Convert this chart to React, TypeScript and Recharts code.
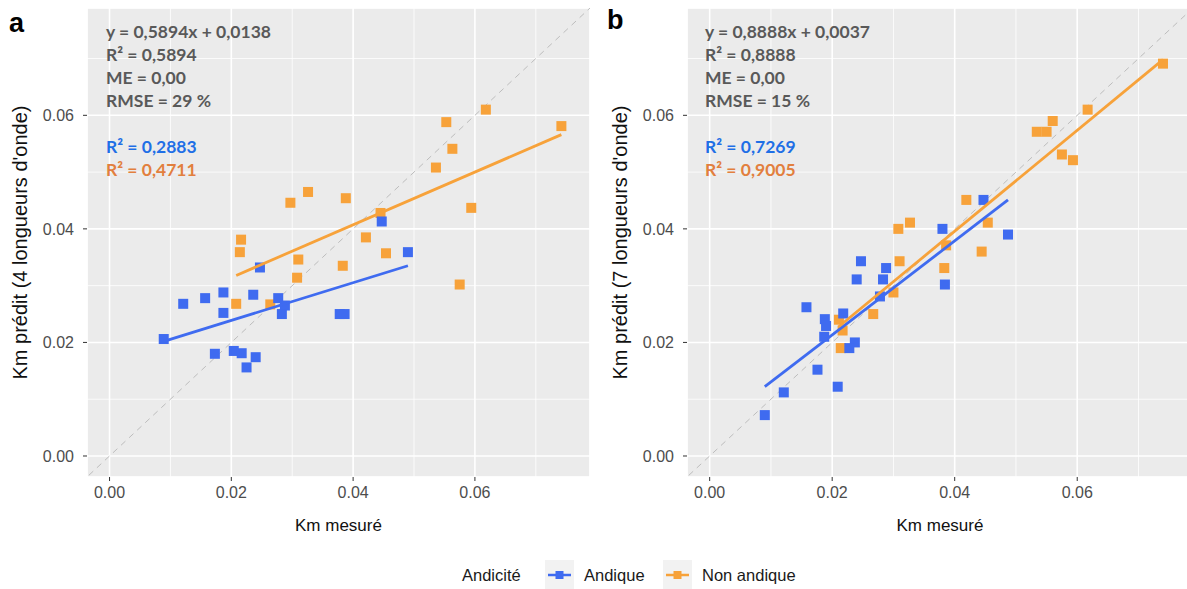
import React from 'react';
import { ScatterChart, Scatter, XAxis, YAxis, CartesianGrid } from 'recharts';

// measured vs predicted Km, panel a (4 wavelengths)
const andiqueA = [
  { x: 0.0089, y: 0.0206 }, { x: 0.0121, y: 0.0268 }, { x: 0.0157, y: 0.0278 },
  { x: 0.0187, y: 0.0288 }, { x: 0.0187, y: 0.0252 }, { x: 0.0236, y: 0.0284 },
  { x: 0.0247, y: 0.0332 }, { x: 0.0277, y: 0.0278 }, { x: 0.0288, y: 0.0265 },
  { x: 0.0283, y: 0.025 }, { x: 0.0378, y: 0.025 }, { x: 0.0386, y: 0.025 },
  { x: 0.049, y: 0.0359 }, { x: 0.0173, y: 0.018 }, { x: 0.0204, y: 0.0185 },
  { x: 0.0217, y: 0.0181 }, { x: 0.024, y: 0.0174 }, { x: 0.0225, y: 0.0156 },
  { x: 0.0447, y: 0.0413 },
];
const nonAndiqueA = [
  { x: 0.0618, y: 0.061 }, { x: 0.0553, y: 0.0588 }, { x: 0.0742, y: 0.0581 },
  { x: 0.0563, y: 0.0541 }, { x: 0.0536, y: 0.0508 }, { x: 0.0326, y: 0.0465 },
  { x: 0.0297, y: 0.0446 }, { x: 0.0388, y: 0.0454 }, { x: 0.0594, y: 0.0437 },
  { x: 0.0445, y: 0.0428 }, { x: 0.0421, y: 0.0385 }, { x: 0.0216, y: 0.0381 },
  { x: 0.0454, y: 0.0357 }, { x: 0.0214, y: 0.0359 }, { x: 0.031, y: 0.0346 },
  { x: 0.0383, y: 0.0335 }, { x: 0.0308, y: 0.0314 }, { x: 0.0575, y: 0.0302 },
  { x: 0.0208, y: 0.0268 }, { x: 0.0264, y: 0.0267 },
];
const fitAndiqueA = [{ x: 0.0089, y: 0.0202 }, { x: 0.049, y: 0.0335 }];
const fitNonAndiqueA = [{ x: 0.0208, y: 0.0318 }, { x: 0.0742, y: 0.0566 }];

// panel b (7 wavelengths)
const andiqueB = [
  { x: 0.0447, y: 0.0451 }, { x: 0.038, y: 0.04 }, { x: 0.0487, y: 0.039 },
  { x: 0.0247, y: 0.0343 }, { x: 0.024, y: 0.0311 }, { x: 0.0288, y: 0.0331 },
  { x: 0.0283, y: 0.0311 }, { x: 0.0384, y: 0.0302 }, { x: 0.0278, y: 0.0281 },
  { x: 0.0158, y: 0.0262 }, { x: 0.0218, y: 0.0251 }, { x: 0.0188, y: 0.0241 },
  { x: 0.019, y: 0.0229 }, { x: 0.0187, y: 0.021 }, { x: 0.0237, y: 0.02 },
  { x: 0.0228, y: 0.019 }, { x: 0.0176, y: 0.0152 }, { x: 0.0209, y: 0.0122 },
  { x: 0.0121, y: 0.0112 }, { x: 0.009, y: 0.0072 },
];
const nonAndiqueB = [
  { x: 0.074, y: 0.0691 }, { x: 0.0617, y: 0.061 }, { x: 0.056, y: 0.059 },
  { x: 0.0534, y: 0.0571 }, { x: 0.055, y: 0.0571 }, { x: 0.0575, y: 0.0531 },
  { x: 0.0593, y: 0.0521 }, { x: 0.0419, y: 0.0451 }, { x: 0.0308, y: 0.04 },
  { x: 0.0327, y: 0.0411 }, { x: 0.0454, y: 0.0411 }, { x: 0.0444, y: 0.036 },
  { x: 0.0386, y: 0.0371 }, { x: 0.031, y: 0.0343 }, { x: 0.0383, y: 0.0331 },
  { x: 0.03, y: 0.0288 }, { x: 0.0267, y: 0.025 }, { x: 0.0211, y: 0.024 },
  { x: 0.0217, y: 0.0221 }, { x: 0.0214, y: 0.019 },
];
const fitAndiqueB = [{ x: 0.009, y: 0.0122 }, { x: 0.0487, y: 0.0451 }];
const fitNonAndiqueB = [{ x: 0.0211, y: 0.0228 }, { x: 0.074, y: 0.0698 }];

const identity = [{ x: -0.01, y: -0.01 }, { x: 0.09, y: 0.09 }];

const majorTicks = [0, 0.02, 0.04, 0.06];
const minorTicks = [0.01, 0.03, 0.05, 0.07];
const domain: [number, number] = [-0.0037, 0.0789];

const statsA = ['y = 0,5894x + 0,0138', 'R² = 0,5894', 'ME = 0,00', 'RMSE = 29 %'];
const statsB = ['y = 0,8888x + 0,0037', 'R² = 0,8888', 'ME = 0,00', 'RMSE = 15 %'];
const r2A = ['R² = 0,2883', 'R² = 0,4711'];
const r2B = ['R² = 0,7269', 'R² = 0,9005'];

const BLUE = '#3F6BF0';
const ORANGE = '#F7A23A';
const FONT = '"Liberation Sans", Arial, sans-serif';

const noShape = () => <g />;

// ggplot-like filled square, 10px
const squareShape = (color: string) => (props: any) => {
  const { cx, cy } = props;
  if (cx == null || cy == null) return <g />;
  return <rect x={cx - 5} y={cy - 5} width={10} height={10} fill={color} />;
};

interface PanelProps {
  andique: { x: number; y: number }[];
  nonAndique: { x: number; y: number }[];
  fitAndique: { x: number; y: number }[];
  fitNonAndique: { x: number; y: number }[];
  yTitle: string;
  width: number;
}

const Panel: React.FC<PanelProps> = ({ andique, nonAndique, fitAndique, fitNonAndique, yTitle, width }) => {
  const tick = { fill: '#4D4D4D', fontSize: 16, fontFamily: FONT };
  return (
    <ScatterChart width={width} height={545} margin={{ top: 8, right: 10, bottom: 0, left: 0 }}>
      <XAxis xAxisId="minor" type="number" dataKey="x" domain={domain} ticks={minorTicks} hide allowDataOverflow />
      <YAxis yAxisId="minor" type="number" dataKey="y" domain={domain} ticks={minorTicks} hide allowDataOverflow />
      <CartesianGrid xAxisId="minor" yAxisId="minor" fill="#EBEBEB" stroke="#FFFFFF" strokeWidth={0.8} />
      <CartesianGrid stroke="#FFFFFF" strokeWidth={1.6} />
      <XAxis
        type="number"
        dataKey="x"
        domain={domain}
        ticks={majorTicks}
        allowDataOverflow
        height={68}
        axisLine={false}
        tickSize={4}
        tickMargin={6}
        tickLine={{ stroke: '#333333' }}
        tick={tick}
        tickFormatter={(v: number) => v.toFixed(2)}
        label={{
          value: 'Km mesuré',
          position: 'insideBottom',
          offset: 14,
          fill: '#111',
          style: { fontSize: 17, fontFamily: FONT },
        }}
      />
      <YAxis
        type="number"
        dataKey="y"
        domain={domain}
        ticks={majorTicks}
        allowDataOverflow
        width={87}
        axisLine={false}
        tickSize={4}
        tickMargin={9}
        tickLine={{ stroke: '#333333' }}
        tick={tick}
        tickFormatter={(v: number) => v.toFixed(2)}
        label={{
          value: yTitle,
          angle: -90,
          position: 'insideLeft',
          offset: 20,
          fill: '#111',
          style: { textAnchor: 'middle', fontSize: 20, fontFamily: FONT },
        }}
      />
      <Scatter data={identity} line={{ stroke: '#BDBDBD', strokeWidth: 1, strokeDasharray: '6 5' }} shape={noShape} isAnimationActive={false} />
      <Scatter data={nonAndique} fill={ORANGE} shape={squareShape(ORANGE)} isAnimationActive={false} />
      <Scatter data={andique} fill={BLUE} shape={squareShape(BLUE)} isAnimationActive={false} />
      <Scatter data={fitAndique} line={{ stroke: BLUE, strokeWidth: 2.8 }} shape={noShape} isAnimationActive={false} />
      <Scatter data={fitNonAndique} line={{ stroke: ORANGE, strokeWidth: 2.8 }} shape={noShape} isAnimationActive={false} />
    </ScatterChart>
  );
};

const Stats: React.FC<{ left: number; lines: string[]; r2: string[] }> = ({ left, lines, r2 }) => (
  <div
    style={{
      position: 'absolute',
      left,
      top: 20,
      fontFamily: 'Lato, "Open Sans", sans-serif',
      fontWeight: 700,
      fontSize: 17.5,
      lineHeight: '23px',
      whiteSpace: 'pre',
    }}
  >
    {lines.map((l) => (
      <div key={l} style={{ color: '#595959' }}>{l}</div>
    ))}
    <div>{' '}</div>
    <div style={{ color: '#1F6FE6' }}>{r2[0]}</div>
    <div style={{ color: '#E27F3E' }}>{r2[1]}</div>
  </div>
);

const KeyIcon: React.FC<{ color: string }> = ({ color }) => (
  <svg width={29} height={29}>
    <rect x={0} y={0} width={29} height={29} fill="#F2F2F2" />
    <line x1={3} y1={15} x2={26} y2={15} stroke={color} strokeWidth={2.5} />
    <rect x={10.5} y={11} width={8} height={8} fill={color} />
  </svg>
);

const App: React.FC = () => {
  const legendText: React.CSSProperties = {
    position: 'absolute',
    top: 565,
    fontFamily: FONT,
    fontSize: 16.5,
    color: '#1a1a1a',
    lineHeight: '20px',
  };
  return (
    <div
      style={{
        position: 'absolute',
        left: 0,
        top: 0,
        width: 1187,
        height: 589,
        overflow: 'hidden',
        background: '#FFFFFF',
      }}
    >
      <div style={{ position: 'absolute', left: 0, top: 0 }}>
        <Panel
          andique={andiqueA}
          nonAndique={nonAndiqueA}
          fitAndique={fitAndiqueA}
          fitNonAndique={fitNonAndiqueA}
          yTitle="Km prédit (4 longueurs d'onde)"
          width={600}
        />
      </div>
      <div style={{ position: 'absolute', left: 600, top: 0 }}>
        <Panel
          andique={andiqueB}
          nonAndique={nonAndiqueB}
          fitAndique={fitAndiqueB}
          fitNonAndique={fitNonAndiqueB}
          yTitle="Km prédit (7 longueurs d'onde)"
          width={603}
        />
      </div>
      <Stats left={106} lines={statsA} r2={r2A} />
      <Stats left={705} lines={statsB} r2={r2B} />
      <div style={{ position: 'absolute', left: 9, top: 8, fontFamily: FONT, fontWeight: 700, fontSize: 27, color: '#000' }}>a</div>
      <div style={{ position: 'absolute', left: 607, top: 5, fontFamily: FONT, fontWeight: 700, fontSize: 27, color: '#000' }}>b</div>

      <div style={{ ...legendText, left: 462 }}>Andicité</div>
      <div style={{ position: 'absolute', left: 545, top: 560 }}><KeyIcon color={BLUE} /></div>
      <div style={{ ...legendText, left: 584 }}>Andique</div>
      <div style={{ position: 'absolute', left: 663, top: 560 }}><KeyIcon color={ORANGE} /></div>
      <div style={{ ...legendText, left: 702 }}>Non andique</div>
    </div>
  );
};

export default App;
